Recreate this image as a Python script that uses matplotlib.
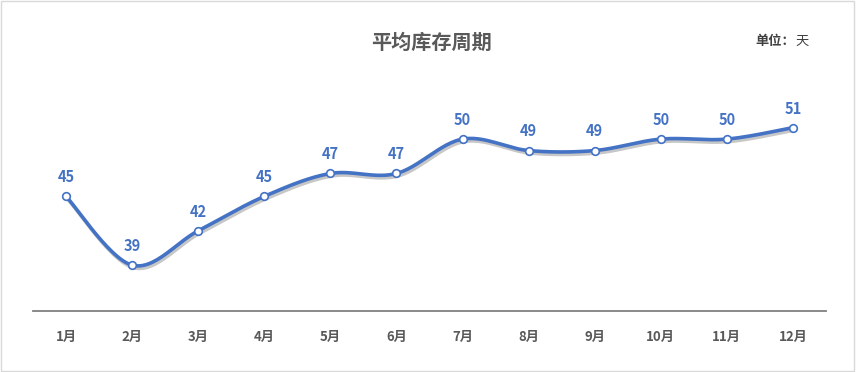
import numpy as np
import matplotlib
matplotlib.use("Agg")
import matplotlib.pyplot as plt
import matplotlib.patheffects as pe
from matplotlib.patches import Rectangle

plt.rcParams["font.family"] = ["Noto Sans CJK SC", "DejaVu Sans"]

months = ["1月", "2月", "3月", "4月", "5月", "6月", "7月", "8月", "9月", "10月", "11月", "12月"]
days = [45, 39, 42, 45, 47, 47, 50, 49, 49, 50, 50, 51]

blue = "#4472C4"
gray = "#595959"


def smooth(xs, ys, n=30):
    # Catmull-Rom style bezier, similar to spreadsheet "smoothed line"
    xs = np.asarray(xs, float)
    ys = np.asarray(ys, float)
    px = np.concatenate([[xs[0]], xs, [xs[-1]]])
    py = np.concatenate([[ys[0]], ys, [ys[-1]]])
    out_x, out_y = [], []
    t = np.linspace(0, 1, n)
    for i in range(1, len(px) - 2):
        p0 = np.array([px[i], py[i]])
        p3 = np.array([px[i + 1], py[i + 1]])
        c1 = p0 + (np.array([px[i + 1], py[i + 1]]) - np.array([px[i - 1], py[i - 1]])) / 6
        c2 = p3 - (np.array([px[i + 2], py[i + 2]]) - np.array([px[i], py[i]])) / 6
        b = ((1 - t) ** 3)[:, None] * p0 + (3 * (1 - t) ** 2 * t)[:, None] * c1 \
            + (3 * (1 - t) * t ** 2)[:, None] * c2 + (t ** 3)[:, None] * p3
        out_x.extend(b[:, 0])
        out_y.extend(b[:, 1])
    return out_x, out_y


fig = plt.figure(figsize=(8.56, 3.72), dpi=100)
fig.patches.append(Rectangle((0.001, 0.002), 0.997, 0.995, transform=fig.transFigure,
                             fill=False, edgecolor="#D9D9D9", linewidth=1))

ax = fig.add_axes([33 / 856, (372 - 311) / 372, 793 / 856, (311 - 24.5) / 372])
x = np.arange(len(months))
sx, sy = smooth(x, days)

ax.plot(sx, sy, color=blue, linewidth=2.6, solid_capstyle="round", zorder=3,
        path_effects=[pe.SimpleLineShadow(offset=(1, -1.8), shadow_color="#000000", alpha=0.22),
                      pe.Normal()])
ax.plot(x, days, linestyle="none", marker="o", markersize=5.5, markerfacecolor="white",
        markeredgecolor=blue, markeredgewidth=1.2, zorder=4)

for xi, v in zip(x, days):
    ax.annotate(str(v), (xi, v), xytext=(0, 8), textcoords="offset points",
                ha="center", va="bottom", color=blue, fontsize=10.5, fontweight="bold")

ax.set_xlim(-0.5, 11.5)
ax.set_ylim(35, 60)
ax.set_xticks(x)
ax.set_xticklabels(months, fontsize=9.5, fontweight="bold", color=gray)
ax.tick_params(axis="x", length=0, pad=14)
ax.set_yticks([])
for side in ["top", "right", "left"]:
    ax.spines[side].set_visible(False)
ax.spines["bottom"].set_color("#808080")
ax.spines["bottom"].set_linewidth(1.3)

fig.text(431 / 856, 1 - 42 / 372, "平均库存周期", ha="center", va="center",
         fontsize=14.5, fontweight="bold", color=gray)
fig.text(795 / 856, 1 - 41 / 372, "单位：", ha="right", va="center",
         fontsize=9.5, fontweight="bold", color="#404040")
fig.text(795 / 856, 1 - 41 / 372, "天", ha="left", va="center",
         fontsize=9.5, color="#404040")

fig.savefig("out.png", dpi=100)
